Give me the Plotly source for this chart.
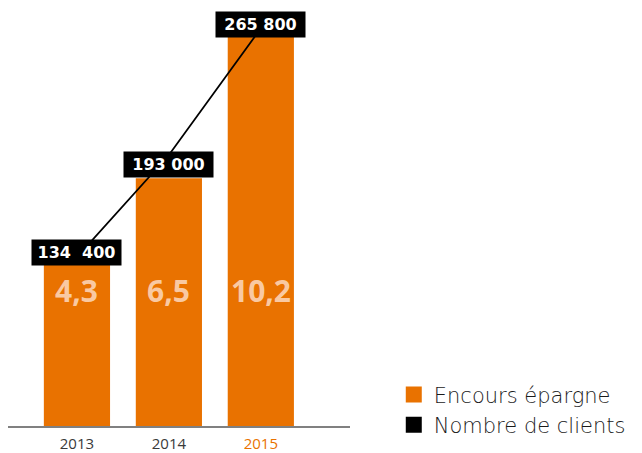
import plotly.graph_objects as go

# Data
years = ["2013", "2014", "2015"]
encours = [4.3, 6.5, 10.2]            # Encours épargne
clients = [134400, 193000, 265800]    # Nombre de clients
clients_labels = ["134\u00a0 400", "193 000", "265 800"]
year_colors = ["#3a3a3a", "#3a3a3a", "#E97200"]

ORANGE = "#E97200"
PEACH = "#F9C9A2"
FONT = "Open Sans, Lato, sans-serif"
WIDE = "DejaVu Sans, sans-serif"
LIGHT = "DejaVu Sans Light, DejaVu Sans, sans-serif"

encours_labels = [f"{v:.1f}".replace(".", ",") for v in encours]

fig = go.Figure()

fig.add_trace(go.Bar(
    x=years, y=encours, marker=dict(color=ORANGE, line=dict(width=0)),
    width=0.72, showlegend=False, hoverinfo="skip",
))
fig.add_trace(go.Scatter(
    x=years, y=clients, yaxis="y2", mode="lines",
    line=dict(color="black", width=1.8), showlegend=False, hoverinfo="skip",
))

# legend entries shown as squares
fig.add_trace(go.Scatter(
    x=[None], y=[None], mode="markers", name="Encours épargne",
    marker=dict(symbol="square", size=16, color=ORANGE),
))
fig.add_trace(go.Scatter(
    x=[None], y=[None], mode="markers", name="Nombre de clients",
    marker=dict(symbol="square", size=16, color="black"),
))

annotations = []
# savings values written inside the bars (category index positions)
for i, txt in enumerate(encours_labels):
    annotations.append(dict(
        x=i, y=0.326, xref="x", yref="paper", yanchor="middle",
        text=f"<b>{txt}</b>",
        showarrow=False, font=dict(family=FONT, size=30, color=PEACH),
    ))
# client counts in black boxes on the line
box_shift = [5, -9, 4]
for i, (v, txt, ys) in enumerate(zip(clients, clients_labels, box_shift)):
    annotations.append(dict(
        x=i, y=v, xref="x", yref="y2", text=f"<b>{txt}</b>",
        showarrow=False, bgcolor="black", yshift=ys,
        width=83, height=19, borderpad=3,
        font=dict(family=WIDE, size=16, color="white"),
    ))

ticktext = [f'<span style="color:{c}">{y}</span>' for y, c in zip(years, year_colors)]

fig.update_layout(
    width=642, height=453,
    margin=dict(l=8, r=292, t=10, b=23),
    paper_bgcolor="white", plot_bgcolor="white",
    xaxis=dict(
        type="category", range=[-0.75, 2.97],
        tickvals=years, ticktext=ticktext,
        tickfont=dict(family=FONT, size=15, color="#3a3a3a"),
        ticklabelstandoff=3,
        showline=True, linecolor="#808080", linewidth=1.5,
        ticks="", showgrid=False, zeroline=False, automargin=False,
        fixedrange=True,
    ),
    yaxis=dict(range=[0, 10.91], visible=False, fixedrange=True),
    yaxis2=dict(range=[37400, 276300], overlaying="y", visible=False,
                fixedrange=True),
    legend=dict(
        x=1.128, y=0.124, xanchor="left", yanchor="top",
        font=dict(family=LIGHT, size=21, color="#1a1a1a"),
        bgcolor="rgba(0,0,0,0)", itemsizing="trace",
    ),
    annotations=annotations,
    showlegend=True,
)

fig.write_html("out.html", config=dict(displayModeBar=False))
